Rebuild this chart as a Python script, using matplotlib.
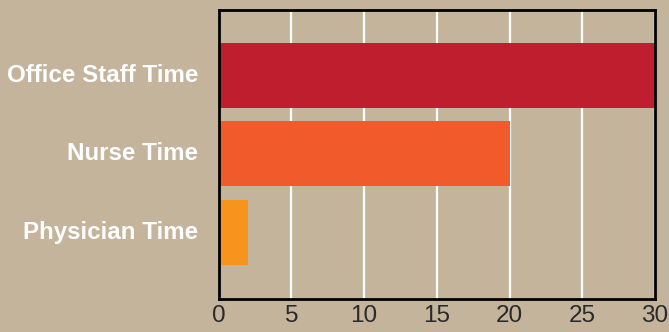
import matplotlib
matplotlib.use("Agg")
import matplotlib.pyplot as plt

# data (top to bottom as shown)
categories = ["Physician Time", "Nurse Time", "Office Staff Time"]
values = [2, 20, 30]
colors = ["#F7941D", "#F15A2B", "#BF1E2E"]
ticks = [0, 5, 10, 15, 20, 25, 30]

bg = "#C4B49C"

fig = plt.figure(figsize=(6.69, 3.32), dpi=100, facecolor=bg)
ax = fig.add_axes([0.327, 0.099, 0.652, 0.871], facecolor=bg)

ax.barh(range(len(categories)), values, height=0.83, color=colors, zorder=2)

ax.set_xlim(0, 30)
ax.set_ylim(-0.85, 2.83)
ax.set_xticks(ticks)
ax.set_yticks(range(len(categories)))
ax.set_yticklabels(categories, fontfamily="Liberation Sans", fontweight="bold",
                   fontsize=17.4, color="white", va="center")
ax.set_xticklabels([str(t) for t in ticks], fontfamily="Liberation Sans",
                   fontsize=17.5, color="#2a2a2a")
ax.tick_params(axis="both", length=0)
ax.tick_params(axis="y", pad=15)
ax.tick_params(axis="x", pad=4)

ax.xaxis.grid(True, color="white", linewidth=1.6, zorder=1)
ax.set_axisbelow(True)

for s in ax.spines.values():
    s.set_color("black")
    s.set_linewidth(2)

fig.savefig("out.png", dpi=100, facecolor=bg)
